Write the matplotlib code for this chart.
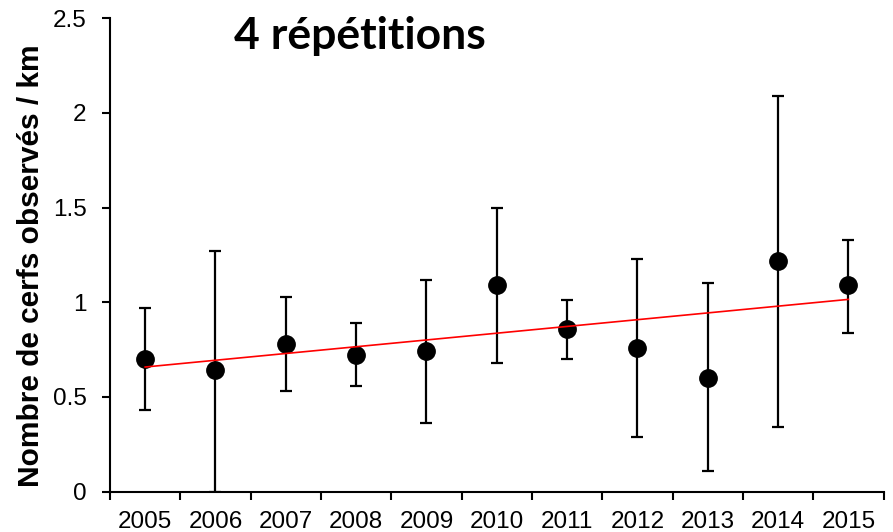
import matplotlib.pyplot as plt
import numpy as np

annees = ['2005', '2006', '2007', '2008', '2009', '2010',
          '2011', '2012', '2013', '2014', '2015']
moyenne = [0.70, 0.64, 0.78, 0.72, 0.74, 1.09, 0.86, 0.76, 0.60, 1.22, 1.09]
borne_haute = [0.97, 1.27, 1.03, 0.89, 1.12, 1.50, 1.01, 1.23, 1.10, 2.09, 1.33]
borne_basse = [0.43, 0.00, 0.53, 0.56, 0.36, 0.68, 0.70, 0.29, 0.11, 0.34, 0.84]

x = np.arange(len(annees))
moy = np.array(moyenne)
err = [moy - np.array(borne_basse), np.array(borne_haute) - moy]

fig = plt.figure(figsize=(8.93, 5.32), dpi=100)
ax = fig.add_axes([0.1232, 0.0761, 0.8662, 0.8895])

ax.errorbar(x, moy, yerr=err, fmt='o', color='black', ecolor='black',
            markersize=12.5, elinewidth=1.6, capsize=4.2, capthick=1.6, zorder=3)

# tendance lineaire
pente, origine = np.polyfit(x, moy, 1)
ax.plot(x, pente * x + origine, color='red', lw=1.2, zorder=4)

ax.set_xlim(-0.5, len(annees) - 0.5)
ax.set_ylim(0, 2.5)
ax.set_yticks([0, 0.5, 1, 1.5, 2, 2.5])
ax.set_yticklabels(['0', '0.5', '1', '1.5', '2', '2.5'])
ax.set_xticks(x)
ax.set_xticklabels(annees)
ax.set_xticks(np.arange(-0.5, len(annees)), minor=True)
ax.tick_params(axis='x', which='major', length=0, pad=14, labelsize=17.5)
ax.tick_params(axis='x', which='minor', length=5.5, width=1.5, direction='out')
ax.tick_params(axis='y', length=5.8, width=1.5, direction='out', labelsize=17.5, pad=11)
for lab in ax.get_xticklabels() + ax.get_yticklabels():
    lab.set_family(['Liberation Sans', 'DejaVu Sans'])

for s in ['top', 'right']:
    ax.spines[s].set_visible(False)
for s in ['left', 'bottom']:
    ax.spines[s].set_linewidth(1.5)

fig.text(0.035, 0.501, 'Nombre de cerfs observés / km', rotation=90,
         ha='center', va='center', fontsize=21.5, fontweight='bold',
         family=['Liberation Sans', 'DejaVu Sans'])
fig.text(0.403, 0.933, '4 répétitions', ha='center', va='center',
         fontsize=32, fontweight='bold', family=['Lato', 'DejaVu Sans'])

fig.savefig('out.png', dpi=100)
